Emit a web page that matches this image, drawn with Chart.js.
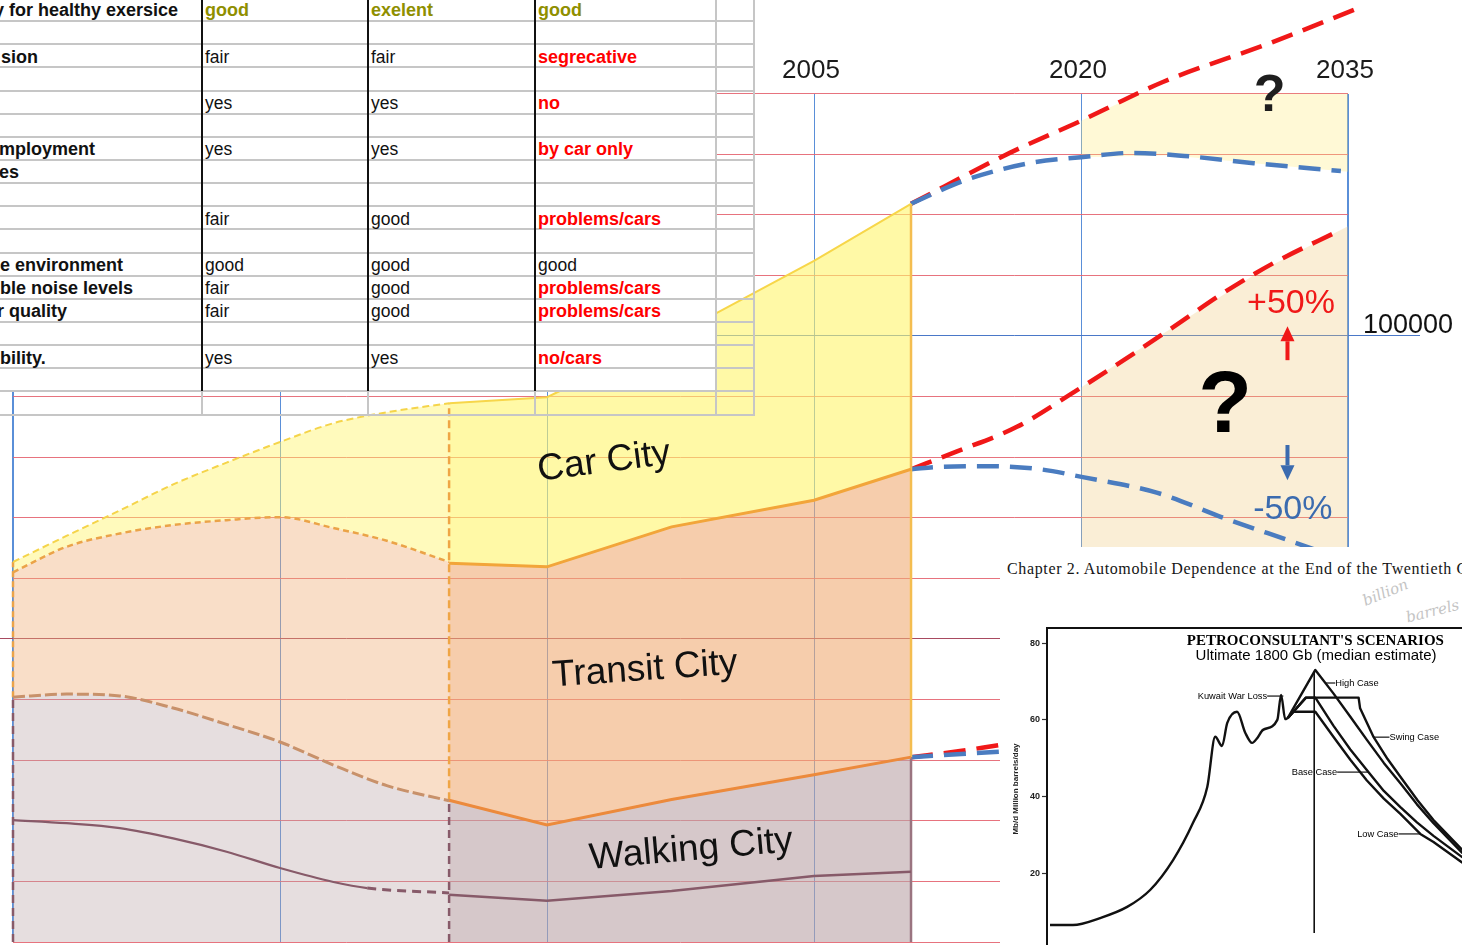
<!DOCTYPE html>
<html lang="en">
<head>
<meta charset="utf-8">
<title>Walking City, Transit City, Car City</title>
<script src="https://cdn.jsdelivr.net/npm/chart.js@4.4.1/dist/chart.umd.min.js"></script>
<style>
  html, body { margin: 0; padding: 0; background: #fff; }
  body { position: relative; width: 1462px; height: 945px; overflow: hidden; font-family: "Liberation Sans", Arial, sans-serif; }
  #cities { position: absolute; left: 0; top: 0; }
  #qualities { position: absolute; left: 0; top: 0; width: 756px; height: 416px; overflow: hidden; }
  #qualities .box { position: absolute; }
  #qualities .txt { position: absolute; white-space: nowrap; color: #111; font-size: 17.5px; }
  #qualities .lbl { font-weight: bold; font-size: 18px; }
  #qualities .olive { color: #8f8f00; font-weight: bold; font-size: 18px; }
  #qualities .red { color: #ff0000; font-weight: bold; font-size: 18px; }
  #source { position: absolute; left: 1000px; top: 547px; width: 462px; height: 398px; background: #fff; overflow: hidden; }
  #chapter { position: absolute; left: 7px; top: 13.6px; white-space: nowrap; font-family: "Liberation Serif", "Times New Roman", serif; font-size: 16px; line-height: 16px; letter-spacing: 0.64px; color: #151515; }
  .scrawl { position: absolute; font-family: "DejaVu Serif", serif; font-style: italic; color: #c4c4c4; font-size: 15px; transform-origin: left top; }
  #oil { position: absolute; left: 0; top: 53px; }
</style>
</head>
<body>
<canvas id="cities" width="1462" height="945"></canvas>
<div id="qualities"></div>
<div id="source">
  <div id="chapter">Chapter 2. Automobile Dependence at the End of the Twentieth Century</div>
  <div class="scrawl" style="left:360px;top:46px;transform:rotate(-22deg)">billion</div>
  <div class="scrawl" style="left:404px;top:62px;transform:rotate(-14deg)">barrels</div>
  <canvas id="oil" width="560" height="360"></canvas>
</div>
<script>
// ---------- Urban qualities table ----------
const QUALITY_ROWS   = [0, 2, 4, 6, 7, 9, 11, 12, 13, 15];
const QUALITY_LABELS = ['y for healthy exersice', 'sion', '', 'mployment', 'es', '', 'e environment', 'ble noise levels', 'r quality', 'bility.'];
const WALKING_RATING = ['good', 'fair', 'yes', 'yes', '', 'fair', 'good', 'fair', 'fair', 'yes'];
const TRANSIT_RATING = ['exelent', 'fair', 'yes', 'yes', '', 'good', 'good', 'good', 'good', 'yes'];
const CAR_RATING     = ['good', 'segrecative', 'no', 'by car only', '', 'problems/cars', 'good', 'problems/cars', 'problems/cars', 'no/cars'];

// ---------- City types over time (left: historic sketch, right: recent) ----------
const LEFT_YEARS       = [1960, 1963, 1966, 1969, 1972, 1975, 1978, 1981, 1984.5];
const LEFT_CAR_TOP     = [62700, 67000, 71200, 75500, 79100, 82500, 85600, 87400, 88900];
const LEFT_TRANSIT_TOP = [61000, 65200, 67400, 68800, 69600, 70100, 68300, 66200, 62700];
const LEFT_WALK_TOP    = [40400, 40900, 40600, 38600, 35900, 33000, 29200, 25800, 23300];
const LEFT_CORE_YEARS  = [1960, 1963, 1966, 1969, 1972, 1975, 1978, 1979.9, 1984.5];
const LEFT_CORE        = [20100, 19600, 18800, 17100, 14900, 12200, 9900, 8900, 8100];

const RIGHT_YEARS       = [1984.5, 1990, 1997, 2005, 2010.45];
const RIGHT_CAR_TOP     = [88900, 89900, 99800, 112400, 121800];
const RIGHT_TRANSIT_TOP = [62500, 61900, 68500, 72900, 78000];
const RIGHT_WALK_TOP    = [23400, 19300, 23500, 27600, 30500];
const RIGHT_CORE        = [7800, 6800, 8400, 10900, 11600];

// ---------- Scenarios to 2035 (high / low path from each band) ----------
const CAR_HIGH_YEARS     = [2016.0, 2020.0, 2024.6, 2030.6, 2035.6];
const CAR_HIGH           = [130200, 135500, 141900, 148300, 154100];
const CAR_LOW_YEARS      = [2013.5, 2017.1, 2020.0, 2022.9, 2025.8, 2029.7, 2034.6];
const CAR_LOW            = [125700, 128500, 129500, 130200, 129700, 128500, 127200];
const TRANSIT_HIGH_YEARS = [2013.0, 2016.4, 2019.8, 2022.4, 2025.2, 2028.0, 2030.8, 2034.6];
const TRANSIT_HIGH       = [80900, 85000, 91100, 96000, 101500, 107100, 112000, 117500];
const TRANSIT_LOW_YEARS  = [2012.1, 2014.9, 2017.7, 2020.1, 2024.3, 2028.0, 2032.7, 2035];
const TRANSIT_LOW        = [78400, 78500, 78000, 76700, 74100, 70000, 65200, 62700];
const WALK_HIGH_YEARS    = [2013.2, 2015.4, 2020];
const WALK_HIGH          = [31500, 32500, 34500];
const WALK_LOW_YEARS     = [2015.4, 2020];
const WALK_LOW           = [31400, 32200];

const BAND_YEARS        = [2020, 2025, 2030, 2035];
const CAR_BAND_TOP      = [135500, 142300, 147700, 153500];
const CAR_BAND_BOTTOM   = [129500, 129800, 128400, 127100];
const TRANSIT_BAND_TOP  = [91500, 101100, 110600, 118100];

const YEAR_GRID   = [1960, 1975, 1990, 2005, 2020, 2035];
const YEAR_LABELS = [2005, 2020, 2035];
const VALUE_LABELS = [100000];
const CITY_NAMES  = ['Car City', 'Transit City', 'Walking City'];

// ---------- World oil production and scenarios (Mb/d) ----------
const OIL_YEARS  = [1929.8, 1935.9, 1943.1, 1950.3, 1956.4, 1962.5, 1967.8, 1971.6, 1973.7, 1975.5, 1976.9, 1979.5, 1981.7, 1983.5, 1984.9, 1986.4, 1990.2, 1991.2, 1992.3, 1993.0];
const OIL_OUTPUT = [6.6, 6.6, 8.4, 11.3, 15.7, 23.5, 33.2, 42.6, 55.6, 53.2, 59.2, 62.1, 56.6, 54.0, 55.3, 57.4, 60.0, 66.5, 60.2, 60.5];
const HIGH_YEARS  = [1993.0, 2000.3, 2005.1, 2009.6, 2014.0, 2018.5, 2022.9, 2027.3, 2031.7, 2039.4];
const HIGH_CASE   = [60.5, 73.0, 66.9, 60.8, 54.8, 48.8, 43.5, 38.0, 33.1, 25.3];
const SWING_YEARS = [1993.0, 1997.8, 2011.8, 2012.2, 2015.8, 2019.5, 2022.9, 2027.5, 2031.7, 2039.4];
const SWING_CASE  = [60.5, 65.8, 65.8, 63.0, 55.5, 49.8, 45.2, 39.0, 33.9, 26.1];
const BASE_YEARS  = [1993.0, 1997.8, 2000.3, 2005.1, 2009.6, 2014.4, 2018.5, 2022.9, 2027.3, 2031.7, 2039.4];
const BASE_CASE   = [60.5, 65.8, 65.8, 58.5, 52.3, 46.4, 41.5, 37.3, 33.3, 29.8, 24.2];
const LOW_YEARS   = [1993.0, 1994.5, 2000.3, 2005.1, 2009.6, 2014.0, 2018.5, 2022.9, 2028.2, 2031.7, 2039.4];
const LOW_CASE    = [60.5, 62.1, 62.1, 55.6, 49.6, 44.2, 39.5, 35.5, 30.3, 28.2, 22.8];
const DIVIDE_YEAR = 2000;
const DIVIDE_SPAN = [4.5, 72.5];
const OIL_TICKS   = [20, 40, 60, 80];

// ================= table =================
const ROW_TOP = -2.1, ROW_H = 23.15, BODY_ROWS = 17, ALL_ROWS = 18, TEXT_DROP = 1.5;
const COL_EDGES = [0, 202, 368, 535, 717, 755];
const LABEL_NUDGE = [-6, 1, 0, -1, -1, 0, 0, 0, -3, 0];
const tbl = document.getElementById('qualities');
function box(l, t, w, h, bg) {
  const d = document.createElement('div');
  d.className = 'box';
  Object.assign(d.style, { left: l + 'px', top: t + 'px', width: w + 'px', height: h + 'px', background: bg });
  tbl.appendChild(d);
}
function cell(l, r, s, cls) {
  const d = document.createElement('div');
  d.className = 'txt ' + (cls || '');
  d.textContent = s;
  const t = ROW_TOP + r * ROW_H + TEXT_DROP;
  Object.assign(d.style, { left: l + 'px', top: t + 'px', height: ROW_H + 'px', lineHeight: ROW_H + 'px' });
  tbl.appendChild(d);
}
const bodyBottom = ROW_TOP + BODY_ROWS * ROW_H;
box(0, 0, COL_EDGES[4], bodyBottom, '#fff');
box(COL_EDGES[4], 0, COL_EDGES[5] - COL_EDGES[4], ROW_TOP + 4 * ROW_H, '#fff');
for (let k = 1; k <= ALL_ROWS; k++) box(0, ROW_TOP + k * ROW_H - 1, COL_EDGES[5], 2, '#c6c6c6');
[1, 2, 3].forEach(c => { box(COL_EDGES[c] - 1, 0, 2, bodyBottom, '#111'); box(COL_EDGES[c] - 1, bodyBottom, 2, ROW_H, '#c6c6c6'); });
[4, 5].forEach(c => box(COL_EDGES[c] - 2, 0, 2, ROW_TOP + ALL_ROWS * ROW_H + 1, '#c6c6c6'));
const tone = (r, col, v) => r === 0 ? 'olive' : (col === 3 && v !== 'good' ? 'red' : '');
QUALITY_ROWS.forEach((r, i) => {
  if (QUALITY_LABELS[i]) cell(LABEL_NUDGE[i], r, QUALITY_LABELS[i], 'lbl');
  [WALKING_RATING, TRANSIT_RATING, CAR_RATING].forEach((col, c) => {
    const v = col[i];
    if (v) cell(COL_EDGES[c + 1] + 3, r, v, tone(r, c + 1, v));
  });
});

// ================= city chart =================
Chart.defaults.font.family = "'Liberation Sans', Arial, sans-serif";
const GRID_RED = 'rgba(228, 100, 112, 0.9)';
const GRID_BLUE = '#5a8fd8';
const AXIS_BLUE = '#4a78c8';
const MID_RULE = '#a84a60';
const RED = '#f01818';
const BLUE = '#4a7cc0';
const CORE = '#875a69';

const pts = (xs, ys) => xs.map((x, i) => ({ x, y: ys[i] }));
const last = a => a[a.length - 1];
const datasets = [];
const add = o => { datasets.push(Object.assign({ pointRadius: 0, fill: false, clip: false, tension: 0, borderWidth: 2 }, o)); return datasets.length - 1; };

// historic sketch
const lWalk = add({ label: 'Walking City', data: pts(LEFT_YEARS, LEFT_WALK_TOP), fill: 'origin', backgroundColor: 'rgba(187,163,167,0.36)', borderColor: '#c8916a', borderDash: [12, 4], borderWidth: 3, cubicInterpolationMode: 'monotone' });
const lTransit = add({ label: 'Transit City', data: pts(LEFT_YEARS, LEFT_TRANSIT_TOP), fill: { target: lWalk }, backgroundColor: 'rgba(240,172,117,0.4)', borderColor: '#eba348', borderDash: [6, 4], borderWidth: 2.5, cubicInterpolationMode: 'monotone' });
add({ label: 'Car City', data: pts(LEFT_YEARS, LEFT_CAR_TOP), fill: { target: lTransit }, backgroundColor: 'rgba(255,245,107,0.45)', borderColor: '#f5d44a', borderDash: [7, 4], borderWidth: 2, cubicInterpolationMode: 'monotone' });
add({ label: 'core', data: pts(LEFT_CORE_YEARS, LEFT_CORE), borderColor: CORE, borderWidth: 2.2, cubicInterpolationMode: 'monotone',
      segment: { borderDash: c => c.p0.parsed.x >= 1979.8 ? [9, 6] : undefined, borderWidth: c => c.p0.parsed.x >= 1979.8 ? 3 : undefined } });

// recent period
const rWalk = add({ label: 'Walking City', data: pts(RIGHT_YEARS, RIGHT_WALK_TOP), fill: 'origin', backgroundColor: 'rgba(187,163,167,0.6)', borderColor: '#ec8a3c', borderWidth: 3 });
const rTransit = add({ label: 'Transit City', data: pts(RIGHT_YEARS, RIGHT_TRANSIT_TOP), fill: { target: rWalk }, backgroundColor: 'rgba(240,172,117,0.6)', borderColor: '#f2a53a', borderWidth: 3 });
add({ label: 'Car City', data: pts(RIGHT_YEARS, RIGHT_CAR_TOP), fill: { target: rTransit }, backgroundColor: 'rgba(255,245,107,0.6)', borderColor: '#f7d64a', borderWidth: 2 });
add({ label: 'core', data: pts(RIGHT_YEARS, RIGHT_CORE), borderColor: CORE, borderWidth: 2.5 });

// period edges
const L0 = LEFT_YEARS[0], L1 = last(LEFT_YEARS), R1 = last(RIGHT_YEARS);
add({ data: [{ x: L0, y: 0 }, { x: L0, y: LEFT_WALK_TOP[0] }], borderColor: CORE, borderDash: [8, 5], borderWidth: 2.5 });
add({ data: [{ x: L0, y: LEFT_WALK_TOP[0] }, { x: L0, y: LEFT_CAR_TOP[0] }], borderColor: '#eba348', borderDash: [6, 4], borderWidth: 2.5 });
add({ data: [{ x: L1, y: 0 }, { x: L1, y: RIGHT_WALK_TOP[0] }], borderColor: CORE, borderDash: [8, 5], borderWidth: 2.5 });
add({ data: [{ x: L1, y: RIGHT_WALK_TOP[0] }, { x: L1, y: RIGHT_CAR_TOP[0] }], borderColor: '#efa545', borderDash: [8, 4], borderWidth: 2.5 });
add({ data: [{ x: R1, y: 0 }, { x: R1, y: last(RIGHT_WALK_TOP) }], borderColor: '#9a7480', borderWidth: 2.5 });
add({ data: [{ x: R1, y: last(RIGHT_WALK_TOP) }, { x: R1, y: last(RIGHT_CAR_TOP) }], borderColor: '#f4bd50', borderWidth: 2.5 });

// uncertainty bands
const carBandLow = add({ data: pts(BAND_YEARS, CAR_BAND_BOTTOM), borderColor: 'rgba(0,0,0,0)', borderWidth: 0 });
add({ data: pts(BAND_YEARS, CAR_BAND_TOP), fill: { target: carBandLow }, backgroundColor: 'rgba(255,235,120,0.3)', borderColor: 'rgba(0,0,0,0)', borderWidth: 0 });
add({ data: pts(BAND_YEARS, TRANSIT_BAND_TOP), fill: 'origin', backgroundColor: 'rgba(240,200,120,0.3)', borderColor: 'rgba(0,0,0,0)', borderWidth: 0 });

// scenario paths
const proj = (y0, xs, ys, colour) => add({ data: [{ x: R1, y: y0 }, ...pts(xs, ys)], borderColor: colour, borderDash: [22, 11], borderWidth: 4.5, cubicInterpolationMode: 'monotone' });
proj(last(RIGHT_CAR_TOP), CAR_LOW_YEARS, CAR_LOW, BLUE);
proj(last(RIGHT_CAR_TOP), CAR_HIGH_YEARS, CAR_HIGH, RED);
proj(last(RIGHT_TRANSIT_TOP), TRANSIT_LOW_YEARS, TRANSIT_LOW, BLUE);
proj(last(RIGHT_TRANSIT_TOP), TRANSIT_HIGH_YEARS, TRANSIT_HIGH, RED);
proj(last(RIGHT_WALK_TOP), WALK_LOW_YEARS, WALK_LOW, BLUE);
proj(last(RIGHT_WALK_TOP), WALK_HIGH_YEARS, WALK_HIGH, RED);

const gridColour = v => v === 100000 ? AXIS_BLUE : (v === 50000 ? MID_RULE : GRID_RED);

function arrow(ctx, px, y0, y1, colour) {
  const dir = Math.sign(y1 - y0), head = 15, half = 7;
  ctx.strokeStyle = colour; ctx.fillStyle = colour; ctx.lineWidth = 4;
  ctx.beginPath(); ctx.moveTo(px, y0); ctx.lineTo(px, y1 - dir * head); ctx.stroke();
  ctx.beginPath(); ctx.moveTo(px, y1); ctx.lineTo(px - half, y1 - dir * head); ctx.lineTo(px + half, y1 - dir * head); ctx.closePath(); ctx.fill();
}

const annotations = {
  id: 'annotations',
  afterDatasetsDraw(chart) {
    const { ctx } = chart, x = chart.scales.x, y = chart.scales.y;
    const at = [{ yr: 1993.2, v: 79200, a: -7.5 }, { yr: 1995.5, v: 44900, a: -4 }, { yr: 1998.1, v: 15200, a: -5 }];
    ctx.save();
    ctx.textAlign = 'center'; ctx.textBaseline = 'middle';
    CITY_NAMES.forEach((name, i) => {
      ctx.save();
      ctx.translate(x.getPixelForValue(at[i].yr), y.getPixelForValue(at[i].v));
      ctx.rotate(at[i].a * Math.PI / 180);
      ctx.font = "37px 'Liberation Sans'"; ctx.fillStyle = '#111';
      ctx.fillText(name, 0, 0);
      ctx.restore();
    });
    ctx.fillStyle = '#1e1e1e'; ctx.font = "bold 52px 'Liberation Sans'";
    ctx.fillText('?', x.getPixelForValue(2030.6), y.getPixelForValue(139400));
    ctx.fillStyle = '#000'; ctx.font = "bold 88px 'Liberation Sans'";
    ctx.fillText('?', x.getPixelForValue(2028.1), y.getPixelForValue(88100));
    ctx.font = "34px 'Liberation Sans'";
    ctx.fillStyle = RED; ctx.fillText('+50%', x.getPixelForValue(2031.8), y.getPixelForValue(105300));
    ctx.fillStyle = '#3b6baf'; ctx.fillText('-50%', x.getPixelForValue(2031.9), y.getPixelForValue(71400));
    const ax = x.getPixelForValue(2031.6);
    arrow(ctx, ax, y.getPixelForValue(96000), y.getPixelForValue(101600), RED);
    arrow(ctx, ax, y.getPixelForValue(82000), y.getPixelForValue(76200), '#3b6baf');
    ctx.restore();
  }
};

new Chart(document.getElementById('cities'), {
  type: 'line',
  data: { datasets },
  options: {
    responsive: false, animation: false, events: [], devicePixelRatio: 1,
    layout: { padding: { left: 0, right: 0, top: 0, bottom: 3 } },
    plugins: { legend: { display: false }, tooltip: { enabled: false }, filler: { drawTime: 'beforeDatasetsDraw' } },
    elements: { point: { radius: 0 }, line: { borderCapStyle: 'butt' } },
    scales: {
      x: {
        type: 'linear', position: 'top', min: 1960, max: 2035,
        afterBuildTicks: s => { s.ticks = YEAR_GRID.map(v => ({ value: v })); },
        afterFit: s => { s.height = 93.5; },
        ticks: { autoSkip: false, maxRotation: 0, padding: 7, labelOffset: -3, color: '#1b1b1b', font: { size: 26 }, callback: v => YEAR_LABELS.includes(v) ? String(v) : '' },
        grid: { color: GRID_BLUE, lineWidth: c => (c.tick && (c.tick.value === 1960 || c.tick.value === 2035)) ? 2 : 1, drawTicks: false },
        border: { display: false }
      },
      y: {
        type: 'linear', position: 'right', min: 0, max: 140000,
        afterFit: s => { s.width = 114; },
        ticks: { stepSize: 10000, autoSkip: false, padding: -57, labelOffset: -10, color: '#111', font: { size: 27 }, callback: v => VALUE_LABELS.includes(v) ? String(v) : '' },
        grid: { color: c => gridColour(c.tick && c.tick.value), lineWidth: 1, tickLength: 72,
                tickColor: c => (c.tick && VALUE_LABELS.includes(c.tick.value)) ? AXIS_BLUE : 'rgba(0,0,0,0)' },
        border: { display: false }
      },
      yEdge: {
        type: 'linear', position: 'left', min: 0, max: 140000,
        afterFit: s => { s.width = 13; },
        ticks: { display: false, stepSize: 10000 },
        grid: { drawOnChartArea: false, tickLength: 13, tickColor: c => (c.tick && c.tick.value === 50000) ? MID_RULE : 'rgba(0,0,0,0)' },
        border: { display: false }
      }
    }
  },
  plugins: [annotations]
});

// ================= oil production inset =================
const CASE_NOTES = [
  { text: 'High Case', x0: 2002.9, x1: 2005.6, v: 69.6, side: 'right' },
  { text: 'Kuwait War Loss', x0: 1987.5, x1: 1991.8, v: 66.2, side: 'left' },
  { text: 'Swing Case', x0: 2015.7, x1: 2020.0, v: 55.5, side: 'right' },
  { text: 'Base Case', x0: 2006.1, x1: 2014.4, v: 46.4, side: 'left' },
  { text: 'Low Case', x0: 2022.4, x1: 2028.2, v: 30.3, side: 'left' }
];
const insetText = {
  id: 'insetText',
  afterDatasetsDraw(chart) {
    const { ctx } = chart, x = chart.scales.x, y = chart.scales.y;
    ctx.save();
    ctx.fillStyle = '#000'; ctx.textAlign = 'center'; ctx.textBaseline = 'alphabetic';
    ctx.font = "bold 15px 'Liberation Serif'";
    ctx.fillText("PETROCONSULTANT'S SCENARIOS", x.getPixelForValue(2000.3), y.getPixelForValue(79.5));
    ctx.font = "15px 'Liberation Sans'";
    ctx.fillText('Ultimate 1800 Gb (median estimate)', x.getPixelForValue(2000.5), y.getPixelForValue(75.6));
    ctx.font = "9.3px 'Liberation Sans'"; ctx.textBaseline = 'middle';
    ctx.strokeStyle = '#111'; ctx.lineWidth = 1.2;
    CASE_NOTES.forEach(n => {
      const p0 = x.getPixelForValue(n.x0), p1 = x.getPixelForValue(n.x1), py = y.getPixelForValue(n.v);
      ctx.beginPath(); ctx.moveTo(p0, py); ctx.lineTo(p1, py); ctx.stroke();
      if (n.side === 'left') { ctx.textAlign = 'right'; ctx.fillText(n.text, p0, py); }
      else { ctx.textAlign = 'left'; ctx.fillText(n.text, p1, py); }
    });
    ctx.restore();
  }
};
new Chart(document.getElementById('oil'), {
  type: 'line',
  data: {
    datasets: [
      { label: 'World production', data: pts(OIL_YEARS, OIL_OUTPUT), cubicInterpolationMode: 'monotone' },
      { label: 'High Case', data: pts(HIGH_YEARS, HIGH_CASE) },
      { label: 'Swing Case', data: pts(SWING_YEARS, SWING_CASE) },
      { label: 'Base Case', data: pts(BASE_YEARS, BASE_CASE) },
      { label: 'Low Case', data: pts(LOW_YEARS, LOW_CASE) },
      { label: 'divide', data: [{ x: DIVIDE_YEAR, y: DIVIDE_SPAN[0] }, { x: DIVIDE_YEAR, y: DIVIDE_SPAN[1] }], borderWidth: 1.6 }
    ]
  },
  options: {
    responsive: false, animation: false, events: [], devicePixelRatio: 1,
    layout: { padding: { top: 27.7, right: 20, bottom: 9.7, left: 0 } },
    plugins: { legend: { display: false }, tooltip: { enabled: false } },
    elements: { point: { radius: 0 }, line: { borderColor: '#111', borderWidth: 2.4, fill: false, tension: 0, borderJoinStyle: 'round' } },
    scales: {
      x: { type: 'linear', position: 'top', min: 1929, max: 2060,
           ticks: { display: false }, grid: { display: false },
           border: { display: true, color: '#111', width: 2 },
           afterFit: s => { s.height = 0; } },
      y: { type: 'linear', min: 0, max: 84,
           afterBuildTicks: s => { s.ticks = OIL_TICKS.map(v => ({ value: v })); },
           afterFit: s => { s.width = 47; },
           ticks: { color: '#222', padding: 2, font: { size: 9, weight: 'bold' } },
           grid: { drawOnChartArea: false, tickLength: 5, tickColor: '#333', tickWidth: 1.2 },
           border: { display: true, color: '#111', width: 2 },
           title: { display: true, text: 'Mb/d Million barrels/day', color: '#222', font: { size: 8, weight: 'bold' }, padding: { top: 11, bottom: 0 } } }
    }
  },
  plugins: [insetText]
});
</script>
</body>
</html>
